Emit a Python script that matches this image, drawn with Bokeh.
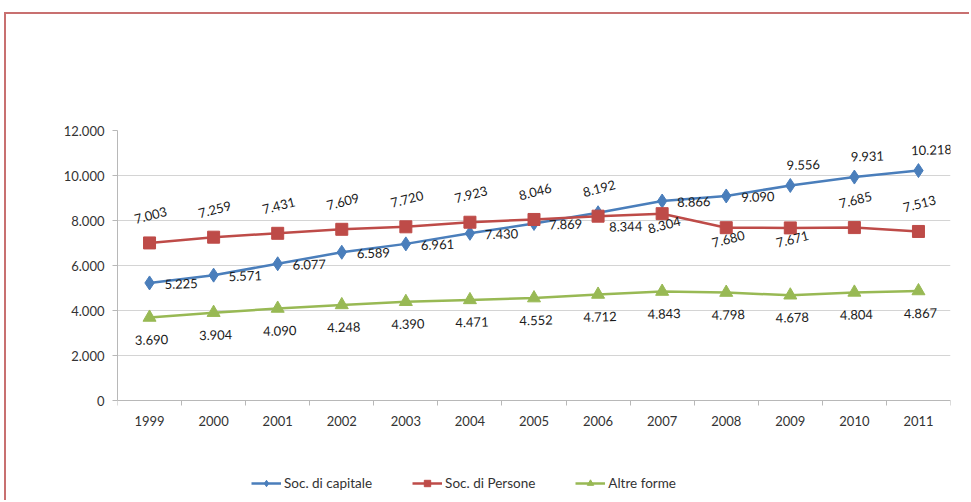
from bokeh.plotting import figure
from bokeh.models import Range1d, FixedTicker, Legend, LegendItem, ColumnDataSource
from bokeh.embed import file_html
from bokeh.resources import INLINE
from bokeh.core.properties import value

years = ["1999", "2000", "2001", "2002", "2003", "2004", "2005",
         "2006", "2007", "2008", "2009", "2010", "2011"]
soc_capitale = [5225, 5571, 6077, 6589, 6961, 7430, 7869, 8344, 8866, 9090, 9556, 9931, 10218]
soc_persone = [7003, 7259, 7431, 7609, 7720, 7923, 8046, 8192, 8304, 7680, 7671, 7685, 7513]
altre_forme = [3690, 3904, 4090, 4248, 4390, 4471, 4552, 4712, 4843, 4798, 4678, 4804, 4867]
y_ticks = [0, 2000, 4000, 6000, 8000, 10000, 12000]
y_tick_labels = ["0", "2.000", "4.000", "6.000", "8.000", "10.000", "12.000"]
series_names = ["Soc. di capitale", "Soc. di Persone", "Altre forme"]

# label placement (style only)
cap_place = ["right"] * 7 + ["rightbelow"] + ["right"] * 2 + ["above"] * 3
per_place = ["above"] * 8 + ["below"] * 3 + ["above"] * 2
alt_place = ["below"] * 13

BLUE, RED, GREEN = "#4a7ebb", "#be4b48", "#98b954"
FONT = "Lato"
W, H = 963, 486
PLOT_PX, BELOW_PX = 270, 100   # pixel heights of value area and the space under it

def fmt(v):
    return f"{v:,}".replace(",", ".")

y_top = y_ticks[-1]
y_bottom = -y_top * BELOW_PX / PLOT_PX   # empty room under the x axis for the legend

p = figure(width=W, height=H, output_backend="svg", toolbar_location=None,
           x_range=Range1d(-0.5, len(years) - 0.5), y_range=Range1d(y_bottom, y_top),
           min_border_left=111, min_border_right=19, min_border_top=116, min_border_bottom=0,
           frame_width=833, frame_height=PLOT_PX + BELOW_PX)
p.outline_line_color = None
p.background_fill_color = "white"
p.border_fill_color = "white"
p.margin = (12, 0, 0, 4)
p.styles = {"border-top": "2px solid #c87070", "border-left": "2px solid #c87070"}

idx = list(range(len(years)))

# axes
p.xaxis.fixed_location = 0
p.xaxis.ticker = FixedTicker(ticks=idx, minor_ticks=[i - 0.5 for i in range(len(years) + 1)])
p.xaxis.major_label_overrides = {i: y for i, y in enumerate(years)}
p.xaxis.major_tick_out = 0
p.xaxis.major_tick_in = 0
p.xaxis.minor_tick_out = 5
p.xaxis.minor_tick_in = 0
p.xaxis.major_label_standoff = 10
p.yaxis.ticker = FixedTicker(ticks=y_ticks)
p.yaxis.bounds = (0, y_top)
p.yaxis.major_label_overrides = {t: l for t, l in zip(y_ticks, y_tick_labels)}
p.yaxis.major_tick_out = 5
p.yaxis.major_tick_in = 0
p.yaxis.major_label_standoff = 8
for ax in (p.xaxis, p.yaxis):
    ax.axis_line_color = "#b8b8b8"
    ax.major_tick_line_color = "#b8b8b8"
    ax.minor_tick_line_color = "#b8b8b8"
    ax.major_label_text_font = FONT
    ax.major_label_text_font_size = "13px"
    ax.major_label_text_color = "#333333"
p.yaxis.minor_tick_line_color = None
p.xgrid.grid_line_color = None
p.ygrid.grid_line_color = "#d4d4d4"

def offsets(place, above_dx, above_dy):
    dx, dy, al = [], [], []
    for pl in place:
        if pl == "right":
            dx.append(15); dy.append(1); al.append("left")
        elif pl == "rightbelow":
            dx.append(11); dy.append(14); al.append("left")
        elif pl == "above":
            dx.append(above_dx); dy.append(above_dy); al.append("center")
        elif pl == "below":
            dx.append(2); dy.append(22); al.append("center")
    return dx, dy, al

renderers = []
for vals, color, marker, msize in [
        (soc_capitale, BLUE, "diamond", 14),
        (soc_persone, RED, "square", 12),
        (altre_forme, GREEN, "triangle", 13)]:
    src = ColumnDataSource(dict(x=idx, y=vals))
    ln = p.line("x", "y", source=src, line_color=color, line_width=2.5)
    sc = p.scatter("x", "y", source=src, marker=marker, size=msize,
                   fill_color=color, line_color=color)
    renderers.append([ln, sc])

for vals, place, ang, adx, ady in [(soc_capitale, cap_place, 0.03, 13, -21),
                                   (soc_persone, per_place, 0.25, 1, -28),
                                   (altre_forme, alt_place, 0.03, 0, 0)]:
    dx, dy, al = offsets(place, adx, ady)
    if vals is soc_persone:
        dy = [11 if pl == "below" else d for d, pl in zip(dy, place)]
    lsrc = ColumnDataSource(dict(x=idx, y=vals, t=[fmt(v) for v in vals],
                                 dx=dx, dy=dy, al=al))
    p.text("x", "y", text="t", source=lsrc, x_offset="dx", y_offset="dy",
           text_align="al", text_baseline="middle", angle=ang,
           text_font=value(FONT), text_font_size="13px", text_color="#1a1a1a")

legend = Legend(items=[LegendItem(label=n, renderers=r) for n, r in zip(series_names, renderers)],
                orientation="horizontal", location=(134, 9), glyph_width=30, glyph_height=16,
                spacing=40, label_standoff=3, padding=0, margin=0,
                border_line_color=None, background_fill_alpha=0,
                label_text_font=FONT, label_text_font_size="13.5px", label_text_color="#333333")
p.add_layout(legend)

open("out.html", "w").write(file_html(p, INLINE))
